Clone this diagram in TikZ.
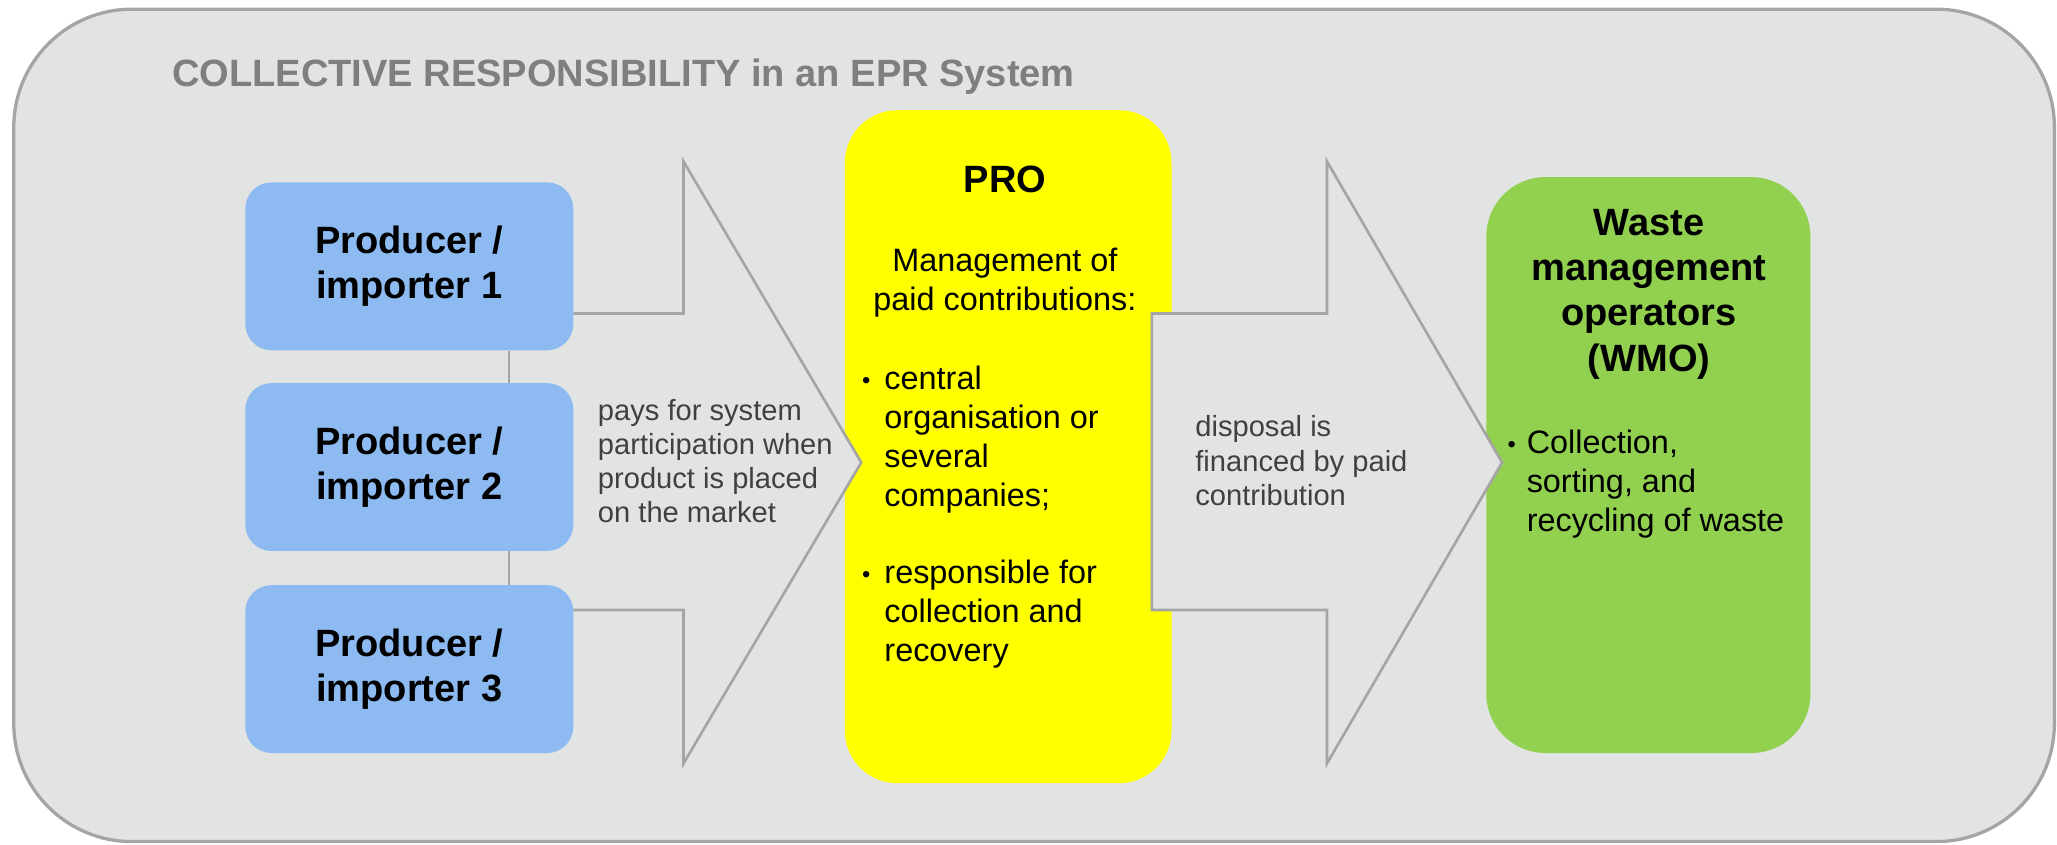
\documentclass[tikz,border=0pt]{standalone}
\usepackage{fontspec}
\setmainfont{Liberation Sans}
\definecolor{bgfill}{HTML}{E2E3E3}
\definecolor{outline}{HTML}{A5A5A5}
\definecolor{prodblue}{HTML}{8DBBF1}
\definecolor{proyellow}{HTML}{FFFF00}
\definecolor{wmogreen}{HTML}{92D050}
\definecolor{titlegrey}{HTML}{7F7F7F}
\definecolor{labgrey}{HTML}{404040}
\newcommand{\smbul}{\raisebox{1pt}{\fontsize{18}{18}\selectfont•}}
\begin{document}
\begin{tikzpicture}[x=1pt,y=-1pt,
  boldtxt/.style={font=\fontsize{29}{34.5}\selectfont\bfseries},
  regtxt/.style={font=\fontsize{24.7}{29.6}\selectfont},
  labtxt/.style={font=\fontsize{22.2}{26}\selectfont, text=labgrey},
  prodbox/.style={fill=prodblue, rounded corners=20pt, minimum width=250pt,
    minimum height=128pt, inner sep=0pt, boldtxt, align=center},
  arrowline/.style={draw=outline, line width=2pt},
  conn/.style={draw=outline, line width=1.2pt},
  txt/.style={inner sep=0pt}]
\useasboundingbox (0,0) rectangle (1568,643.4);
% outer frame
\draw[fill=bgfill, draw=outline, line width=2.5pt, rounded corners=90pt]
  (10.5,7) rectangle (1566,641.5);
\node[txt, anchor=base west, boldtxt, text=titlegrey] (title) at (131,66)
  {COLLECTIVE RESPONSIBILITY in an EPR System};
% PRO and WMO boxes
\node[fill=proyellow, rounded corners=40pt, minimum width=249pt,
  minimum height=513pt, inner sep=0pt] (pro) at (768.5,340.5) {};
\node[fill=wmogreen, rounded corners=45pt, minimum width=247pt,
  minimum height=439pt, inner sep=0pt] (wmo) at (1256.5,354.5) {};
% arrow 1
\fill[bgfill] (437,239) -- (521,239) -- (521,123) -- (656.5,352.5)
  -- (521,582) -- (521,465) -- (437,465) -- cycle;
\draw[arrowline] (437,239) -- (521,239) -- (521,123) -- (656.5,352.5)
  -- (521,582) -- (521,465) -- (437,465);
% producers
\node[prodbox] (p1) at (312,203) {Producer /\\importer 1};
\node[prodbox] (p2) at (312,356) {Producer /\\importer 2};
\node[prodbox] (p3) at (312,510) {Producer /\\importer 3};
\coordinate (cx) at (388,0);
\draw[conn] (p1.south -| cx) -- (p2.north -| cx);
\draw[conn] (p2.south -| cx) -- (p3.north -| cx);
% arrow 2
\filldraw[fill=bgfill, arrowline] (878,239) -- (1011.5,239) -- (1011.5,123)
  -- (1145,352.5) -- (1011.5,582) -- (1011.5,465) -- (878,465) -- cycle;
% labels
\node[txt, labtxt, anchor=north west, align=left] (lab1) at (455.6,304)
  {pays for system\\participation when\\product is placed\\on the market};
\node[txt, labtxt, anchor=north west, align=left] (lab2) at (911,316.8)
  {disposal is\\financed by paid\\contribution};
% PRO texts
\node[txt, anchor=base, boldtxt] (protitle) at (766,147) {PRO};
\node[txt, regtxt, anchor=north, align=center] (promgmt) at (766,189)
  {Management of\\paid contributions:};
\node[txt, regtxt, anchor=north west, align=left] (probul) at (657,279)
  {\makebox[17pt][l]{\smbul}central\\\hspace*{17pt}organisation or\\\hspace*{17pt}several\\\hspace*{17pt}companies;\\[29.6pt]\makebox[17pt][l]{\smbul}responsible for\\\hspace*{17pt}collection and\\\hspace*{17pt}recovery};
% WMO texts
\node[txt, boldtxt, anchor=north, align=center] (wmotitle) at (1257,159.2)
  {Waste\\management\\operators\\(WMO)};
\node[txt, regtxt, anchor=north west, align=left] (wmobul) at (1149,327.6)
  {\makebox[14.6pt][l]{\smbul}Collection,\\\hspace*{14.6pt}sorting, and\\\hspace*{14.6pt}recycling of waste};
\end{tikzpicture}
\end{document}
